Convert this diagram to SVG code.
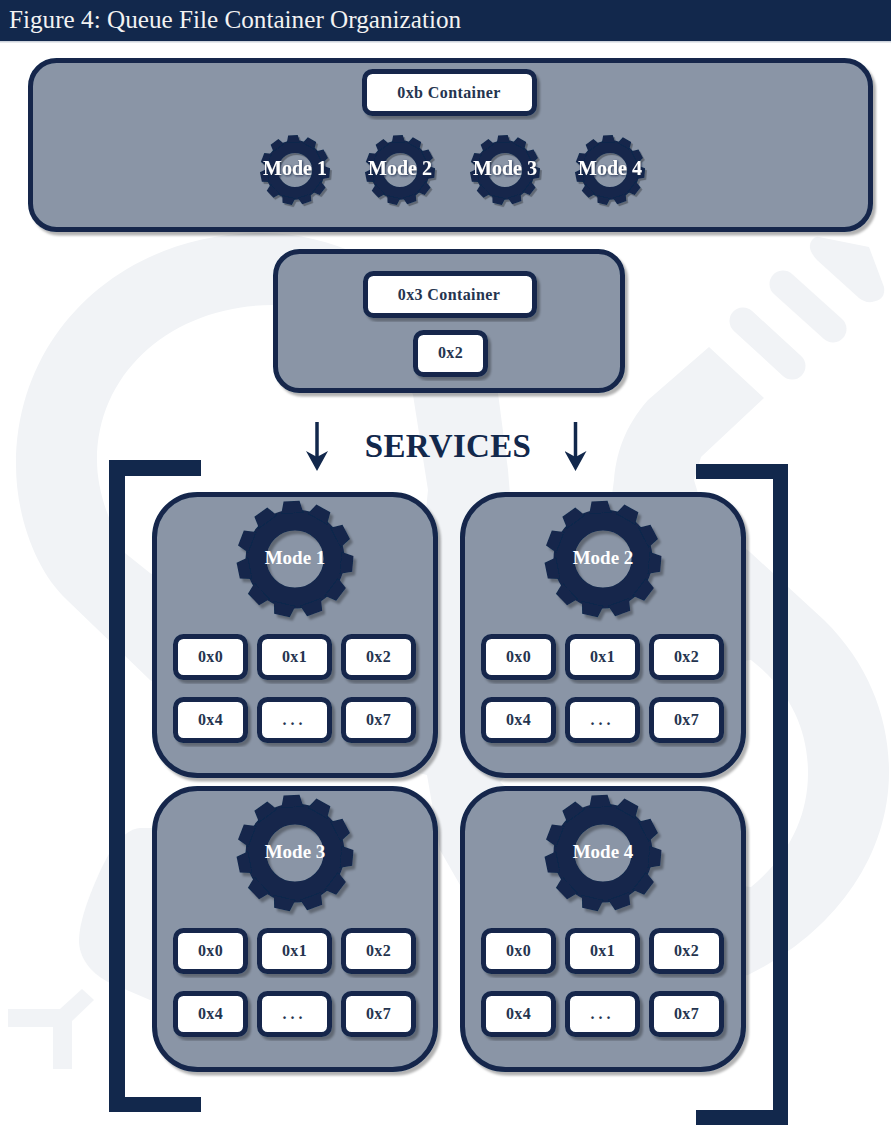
<svg xmlns="http://www.w3.org/2000/svg" width="891" height="1142" viewBox="0 0 891 1142">
<style>
.wm{fill:#f1f3f6}
.panel{fill:#8a95a6;stroke:#12284c;stroke-width:5;filter:url(#sh)}
.box{fill:#fff;stroke:#12284c;stroke-width:5;filter:url(#sh)}
.lbl{font-family:"Liberation Serif","Times New Roman",serif;font-weight:bold;font-size:16px;fill:#25344f;text-anchor:middle;letter-spacing:.3px}
.cont{letter-spacing:.4px}
.mode{font-family:"Liberation Serif","Times New Roman",serif;font-weight:bold;font-size:19px;fill:#fff;text-anchor:middle}
.modes{font-size:20px;filter:url(#ts)}
.ink{fill:#12284c}
.gearshape{filter:url(#sh)}
.conn{stroke:#12284c;stroke-width:3.5;fill:none;marker-end:url(#arrow)}
</style>
<defs>
<filter id="sh" x="-10%" y="-10%" width="125%" height="125%"><feDropShadow dx="3" dy="3.5" stdDeviation="0.8" flood-color="#000" flood-opacity="0.3"/></filter>
<filter id="ts" x="-10%" y="-20%" width="125%" height="150%"><feDropShadow dx="1" dy="1" stdDeviation="0.8" flood-color="#12284c" flood-opacity="0.9"/></filter>
<marker id="arrow" markerUnits="userSpaceOnUse" markerWidth="20" markerHeight="22" viewBox="0 0 20 22" refX="6" refY="11" orient="auto"><path d="M0,0 L20,11 L0,22 L6,11Z" fill="#12284c"/></marker>
<path id="tooth" class="ink" d="M-11,-46 L-8,-58 L8,-58 L11,-46Z"/>
<g id="gear" class="gearshape">
<circle r="39" fill="none" stroke="#12284c" stroke-width="21"/>
<use href="#tooth" transform="rotate(-3.4)"/>
<use href="#tooth" transform="rotate(29.3)"/>
<use href="#tooth" transform="rotate(62.05)"/>
<use href="#tooth" transform="rotate(94.8)"/>
<use href="#tooth" transform="rotate(127.5)"/>
<use href="#tooth" transform="rotate(160.2)"/>
<use href="#tooth" transform="rotate(193)"/>
<use href="#tooth" transform="rotate(225.7)"/>
<use href="#tooth" transform="rotate(258.4)"/>
<use href="#tooth" transform="rotate(291.2)"/>
<use href="#tooth" transform="rotate(323.9)"/>
</g>
</defs>
<rect width="891" height="1142" fill="#fff"/>
<g id="watermark">
<path class="wm" fill-rule="evenodd" d="M16,465 C16,330 125,233 262,233 C380,233 480,330 498,393 L508,470 L510,495 L612,495 L614,480 C616,455 624,427 648,400 L709,347 L764,398 L701,457 L694,480 L700,500 L730,535 L751,553 L824,620 C870,665 889,720 889,772 C889,860 830,935 748,975 L600,1000 L470,900 L460,885 L440,850 L427,775 L250,735 L150,680 L67,600 C35,570 16,515 16,465Z
M97,460 C97,370 175,305 273,305 C350,305 405,370 413,395 L428,490 L425,520 L300,660 L150,573 L125,553 C108,520 97,490 97,460Z
M751,660 C790,690 808,730 808,773 C808,815 790,855 751,887 L600,870 L500,782 L600,680Z"/>
<path class="wm" d="M140,828 C122,830 108,850 92,890 C82,915 79,930 79,942 C80,962 95,975 108,982 L150,1000 L200,1000 L200,828Z"/>
<path class="wm" d="M8,1009 L60,1009 L82,989 L94,1000 L72,1021 L72,1069 L53,1069 L53,1027 L8,1027Z"/>
<line x1="743" y1="321" x2="792" y2="366" stroke="#f1f3f6" stroke-width="27" stroke-linecap="round"/>
<line x1="783" y1="284" x2="833" y2="329" stroke="#f1f3f6" stroke-width="27" stroke-linecap="round"/>
<path class="wm" d="M819,237 L869,247 L884,287 Q886,300 872,302 Q865,303 859,298 L817,260 Q806,248 812,240 Q815,236 819,237Z"/>
</g>
<g id="header">
<rect width="891" height="41" fill="#12284c"/>
<rect y="41" width="891" height="1.5" fill="#cdd3dc"/>
<text x="9" y="28" font-family="'Liberation Serif','Times New Roman',serif" font-size="25.2" fill="#f2f2f2">Figure 4: Queue File Container Organization</text>
</g>
<g id="container-0xb">
<rect class="panel" x="30.5" y="60.5" width="840" height="169" rx="26"/>
<rect class="box" x="364.5" y="71.5" width="170" height="42" rx="8"/>
<text class="lbl cont" x="449" y="98">0xb Container</text>
</g>
<g id="top-mode-1"><use href="#gear" transform="translate(295,170) scale(.6)"/><text class="mode modes" x="295" y="175">Mode 1</text></g>
<g id="top-mode-2"><use href="#gear" transform="translate(400,170) scale(.6)"/><text class="mode modes" x="400" y="175">Mode 2</text></g>
<g id="top-mode-3"><use href="#gear" transform="translate(505,170) scale(.6)"/><text class="mode modes" x="505" y="175">Mode 3</text></g>
<g id="top-mode-4"><use href="#gear" transform="translate(610,170) scale(.6)"/><text class="mode modes" x="610" y="175">Mode 4</text></g>
<g id="container-0x3">
<rect class="panel" x="275.5" y="251.5" width="347" height="139" rx="24"/>
<rect class="box" x="365.5" y="273.5" width="169" height="42" rx="8"/>
<text class="lbl cont" x="449" y="300">0x3 Container</text>
<rect class="box" x="415.5" y="332.5" width="70" height="42" rx="8"/>
<text class="lbl" x="450.5" y="358">0x2</text>
</g>
<g id="services-label"><text x="448" y="457" font-family="'Liberation Serif','Times New Roman',serif" font-weight="bold" font-size="33" letter-spacing=".3" fill="#12284c" text-anchor="middle">SERVICES</text></g>
<g id="connectors">
<line class="conn" x1="317" y1="422" x2="317" y2="457"/>
<line class="conn" x1="575.5" y1="422" x2="575.5" y2="457"/>
</g>
<g id="brackets">
<path class="ink" d="M109,460 H201 V476 H125 V1097 H201 V1112 H109Z"/>
<path class="ink" d="M696,464 H788 V1125 H696 V1110 H773 V479 H696Z"/>
</g>
<g id="services-mode-1">
<rect class="panel" x="154.5" y="494.5" width="281" height="281" rx="43"/>
<use href="#gear" transform="translate(295,559)"/>
<text class="mode" x="295" y="564">Mode 1</text>
<rect class="box" x="175.5" y="636.5" width="70" height="41" rx="8"/><text class="lbl" x="210.5" y="662">0x0</text>
<rect class="box" x="259.5" y="636.5" width="70" height="41" rx="8"/><text class="lbl" x="294.5" y="662">0x1</text>
<rect class="box" x="343.5" y="636.5" width="70" height="41" rx="8"/><text class="lbl" x="378.5" y="662">0x2</text>
<rect class="box" x="175.5" y="699.5" width="70" height="41" rx="8"/><text class="lbl" x="210.5" y="725">0x4</text>
<rect class="box" x="259.5" y="699.5" width="70" height="41" rx="8"/><text class="lbl" x="294.5" y="725" style="letter-spacing:4px">...</text>
<rect class="box" x="343.5" y="699.5" width="70" height="41" rx="8"/><text class="lbl" x="378.5" y="725">0x7</text>
</g>
<g id="services-mode-2" transform="translate(308,0)">
<rect class="panel" x="154.5" y="494.5" width="281" height="281" rx="43"/>
<use href="#gear" transform="translate(295,559)"/>
<text class="mode" x="295" y="564">Mode 2</text>
<rect class="box" x="175.5" y="636.5" width="70" height="41" rx="8"/><text class="lbl" x="210.5" y="662">0x0</text>
<rect class="box" x="259.5" y="636.5" width="70" height="41" rx="8"/><text class="lbl" x="294.5" y="662">0x1</text>
<rect class="box" x="343.5" y="636.5" width="70" height="41" rx="8"/><text class="lbl" x="378.5" y="662">0x2</text>
<rect class="box" x="175.5" y="699.5" width="70" height="41" rx="8"/><text class="lbl" x="210.5" y="725">0x4</text>
<rect class="box" x="259.5" y="699.5" width="70" height="41" rx="8"/><text class="lbl" x="294.5" y="725" style="letter-spacing:4px">...</text>
<rect class="box" x="343.5" y="699.5" width="70" height="41" rx="8"/><text class="lbl" x="378.5" y="725">0x7</text>
</g>
<g id="services-mode-3" transform="translate(0,294)">
<rect class="panel" x="154.5" y="494.5" width="281" height="281" rx="43"/>
<use href="#gear" transform="translate(295,559)"/>
<text class="mode" x="295" y="564">Mode 3</text>
<rect class="box" x="175.5" y="636.5" width="70" height="41" rx="8"/><text class="lbl" x="210.5" y="662">0x0</text>
<rect class="box" x="259.5" y="636.5" width="70" height="41" rx="8"/><text class="lbl" x="294.5" y="662">0x1</text>
<rect class="box" x="343.5" y="636.5" width="70" height="41" rx="8"/><text class="lbl" x="378.5" y="662">0x2</text>
<rect class="box" x="175.5" y="699.5" width="70" height="41" rx="8"/><text class="lbl" x="210.5" y="725">0x4</text>
<rect class="box" x="259.5" y="699.5" width="70" height="41" rx="8"/><text class="lbl" x="294.5" y="725" style="letter-spacing:4px">...</text>
<rect class="box" x="343.5" y="699.5" width="70" height="41" rx="8"/><text class="lbl" x="378.5" y="725">0x7</text>
</g>
<g id="services-mode-4" transform="translate(308,294)">
<rect class="panel" x="154.5" y="494.5" width="281" height="281" rx="43"/>
<use href="#gear" transform="translate(295,559)"/>
<text class="mode" x="295" y="564">Mode 4</text>
<rect class="box" x="175.5" y="636.5" width="70" height="41" rx="8"/><text class="lbl" x="210.5" y="662">0x0</text>
<rect class="box" x="259.5" y="636.5" width="70" height="41" rx="8"/><text class="lbl" x="294.5" y="662">0x1</text>
<rect class="box" x="343.5" y="636.5" width="70" height="41" rx="8"/><text class="lbl" x="378.5" y="662">0x2</text>
<rect class="box" x="175.5" y="699.5" width="70" height="41" rx="8"/><text class="lbl" x="210.5" y="725">0x4</text>
<rect class="box" x="259.5" y="699.5" width="70" height="41" rx="8"/><text class="lbl" x="294.5" y="725" style="letter-spacing:4px">...</text>
<rect class="box" x="343.5" y="699.5" width="70" height="41" rx="8"/><text class="lbl" x="378.5" y="725">0x7</text>
</g>
</svg>
